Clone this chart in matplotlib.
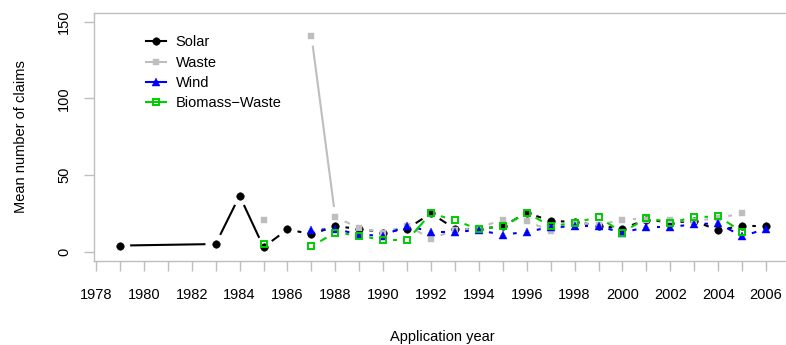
import numpy as np
import matplotlib
matplotlib.use('Agg')
import matplotlib.pyplot as plt
from matplotlib.ticker import MultipleLocator

plt.rcParams['font.family'] = ['Liberation Sans', 'DejaVu Sans']

# mean number of claims per application year
solar_years = [1979, 1983] + list(range(1984, 2007))
solar = [4, 5, 36.5, 3, 14.5, 11.5, 16.5, 15, 12.5, 15, 25, 15, 15, 16.5, 25.5,
         20, 19.5, 17, 15, 21, 19, 20, 14, 17, 16.5]

waste_years = list(range(1985, 2006))
waste = [20.5, np.nan, 141, 22.5, 15.5, 12.5, 17, 8.5, 14, 15.5, 21, 20, 13.5,
         19, 17.5, 21, 21, 20.5, 20, 22, 25]

wind_years = list(range(1987, 2007))
wind = [14, 15, 11, 10.5, 17, 13, 13, 14, 11, 13, 16, 16.5, 16.5, 12.5, 16, 16,
        18, 18.5, 10, 15]

biomass_years = list(range(1985, 2006))
biomass = [5, np.nan, 3.5, 12.5, 10.5, 7.5, 7.5, 25, 20.5, 14.5, 16.5, 25.5, 16.5,
           19, 22.5, 12.5, 22, 19, 22.5, 23, 13]

series = [
    ('Solar', solar_years, solar, dict(color='black', marker='o', ms=5.4, mfc='black', mec='black', mew=0.4)),
    ('Waste', waste_years, waste, dict(color='#bebebe', marker='s', ms=4.8, mfc='#bebebe', mec='#bebebe', mew=0.3)),
    ('Wind', wind_years, wind, dict(color='blue', marker='^', ms=5.6, mfc='blue', mec='blue', mew=0.3)),
    ('Biomass\u2212Waste', biomass_years, biomass, dict(color='#00cd00', marker='s', ms=4.0, mfc='none', mec='#00cd00', mew=1.4)),
]

W, H = 786, 345
fig = plt.figure(figsize=(W / 100, H / 100), dpi=100)
# plot box in pixels: left 94.1, right 791.9, top 12.5, bottom 260.9
ax = fig.add_axes([94.1 / W, (H - 260.9) / H, 697.8 / W, 248.4 / H])
ax.set_xlim(1977.92, 2007.08)
ax.set_ylim(-6, 156)

fs = 10.5
gap = 10.2  # px gap around points (type="b")
lw = 1.5

fig.canvas.draw()
to_px = ax.transData.transform
to_data = ax.transData.inverted().transform

for name, xs, ys, st in series:
    xs = np.asarray(xs, float)
    ys = np.asarray(ys, float)
    for i in range(len(xs) - 1):
        if np.isnan(ys[i]) or np.isnan(ys[i + 1]):
            continue
        p0 = to_px((xs[i], ys[i]))
        p1 = to_px((xs[i + 1], ys[i + 1]))
        d = p1 - p0
        L = np.hypot(*d)
        if L <= 2 * gap:
            continue
        a = to_data(p0 + d / L * gap)
        b = to_data(p1 - d / L * gap)
        ax.plot([a[0], b[0]], [a[1], b[1]], color=st['color'], lw=lw,
                solid_capstyle='butt', clip_on=False)
    ax.plot(xs, ys, linestyle='none', label=name, clip_on=False,
            **{k: v for k, v in st.items() if k != 'color'}, color=st['color'])

# legend handles with a line through the marker
handles = []
for name, xs, ys, st in series:
    h, = ax.plot([], [], lw=lw, **st)
    handles.append(h)
leg = ax.legend(handles, [s[0] for s in series], loc='upper left',
                bbox_to_anchor=(146 / W, 1 - 35.5 / H), bbox_transform=fig.transFigure,
                frameon=False, fontsize=fs, handlelength=1.37, handletextpad=0.66,
                labelspacing=0.43, borderpad=0, borderaxespad=0, numpoints=1)

frame_col = '#bebebe'
for side in ['left', 'top', 'bottom']:
    ax.spines[side].set_color(frame_col)
    ax.spines[side].set_linewidth(1.0)
ax.spines['right'].set_visible(False)

ax.xaxis.set_major_locator(MultipleLocator(2))
ax.xaxis.set_minor_locator(MultipleLocator(1))
ax.set_yticks([0, 50, 100, 150])
ax.tick_params(axis='x', which='both', length=7.5, width=1.0, color=frame_col,
               labelsize=fs, pad=12)
ax.tick_params(axis='y', length=7.5, width=1.0, color=frame_col, labelsize=fs, pad=8.9)
for lab in ax.get_yticklabels():
    lab.set_rotation(90)
    lab.set_va('center')

fig.text(442 / W, 1 - 337 / H, 'Application year', ha='center', va='center', fontsize=fs)
fig.text(21.2 / W, 1 - 136.7 / H, 'Mean number of claims', ha='center', va='center',
         rotation=90, fontsize=fs)

fig.savefig('out.png', dpi=100)
